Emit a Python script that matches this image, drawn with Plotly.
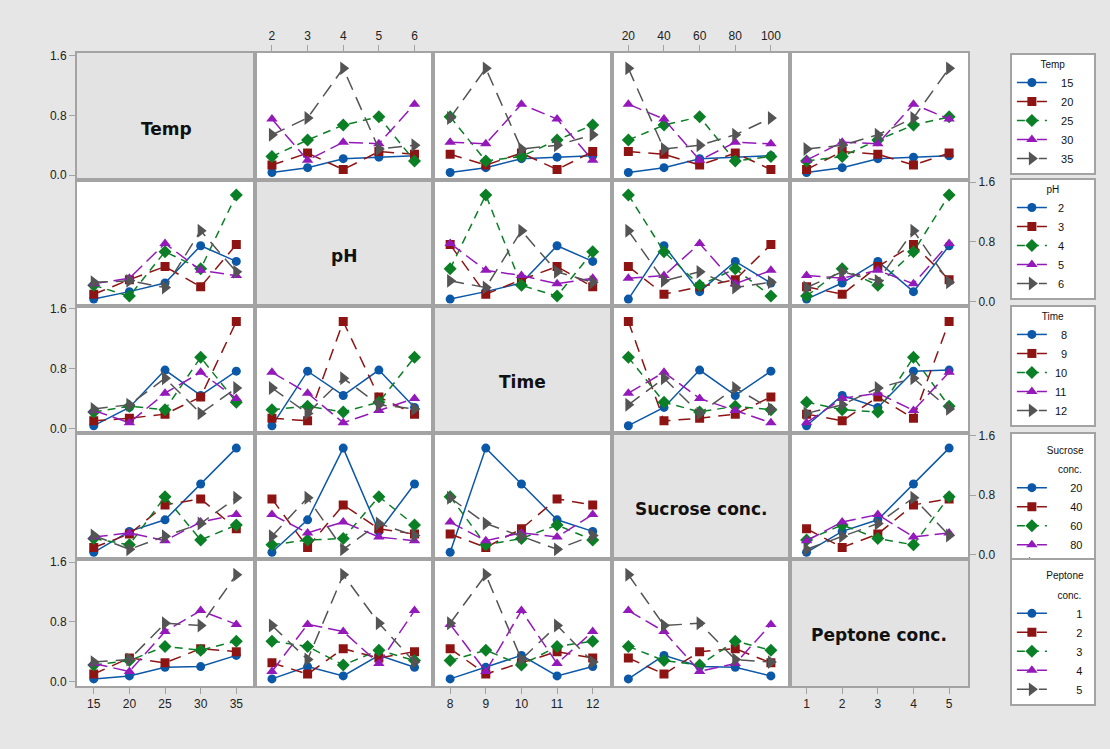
import plotly.graph_objects as go
from plotly.subplots import make_subplots

# Factors and their levels
factor_names = ["Temp", "pH", "Time", "Sucrose conc.", "Peptone conc."]
legend_titles = [["Temp"], ["pH"], ["Time"], ["Sucrose", "conc."], ["Peptone", "conc."]]
temp_levels = [15, 20, 25, 30, 35]
ph_levels = [2, 3, 4, 5, 6]
time_levels = [8, 9, 10, 11, 12]
sucrose_levels = [20, 40, 60, 80, 100]
peptone_levels = [1, 2, 3, 4, 5]

# L25 design: factor settings of each run and the measured response
temp = [15, 15, 15, 15, 15, 20, 20, 20, 20, 20, 25, 25, 25, 25, 25,
        30, 30, 30, 30, 30, 35, 35, 35, 35, 35]
ph = [2, 3, 4, 5, 6, 2, 3, 4, 5, 6, 2, 3, 4, 5, 6,
      2, 3, 4, 5, 6, 2, 3, 4, 5, 6]
time_h = [8, 9, 10, 11, 12, 9, 10, 11, 12, 8, 10, 11, 12, 8, 9,
          11, 12, 8, 9, 10, 12, 8, 9, 10, 11]
sucrose = [20, 40, 60, 80, 100, 60, 80, 100, 20, 40, 100, 20, 40, 60, 80,
           40, 60, 80, 100, 20, 80, 100, 20, 40, 60]
peptone = [1, 2, 3, 4, 5, 4, 5, 1, 2, 3, 2, 3, 4, 5, 1,
           5, 1, 2, 3, 4, 3, 4, 5, 1, 2]
response = [0.035, 0.10, 0.22, 0.24, 0.26,
            0.135, 0.295, 0.075, 0.315, 0.28,
            0.25, 0.47, 0.67, 0.78, 0.19,
            0.75, 0.20, 0.44, 0.42, 0.95,
            0.54, 0.765, 1.43, 0.35, 0.40]

columns = [temp, ph, time_h, sucrose, peptone]
levels = [temp_levels, ph_levels, time_levels, sucrose_levels, peptone_levels]

colors = ["#0b57a8", "#8e1414", "#0b7f26", "#9419ba", "#545454"]
symbols = ["circle", "square", "diamond", "triangle-up", "triangle-right"]
marker_sizes = [9, 9, 10, 10, 12]
dashes = ["solid", "12px,8px", "8px,6px", "14px,6px", "14px,8px"]

BORDER = "#a3a3a3"
DIAG_FILL = "#e3e3e3"
FONT = "Liberation Sans, Arial, sans-serif"
N = 5
NBSP = "\u00a0"

# legend label layout: right-aligned in nbsp units (one digit ~ two nbsp)
label_units = [7, 4, 5, 10, 10]
box_units = 12


def legend_label(value, r):
    s = str(value)
    lead = max(label_units[r] - 2 * len(s), 0)
    return NBSP * lead + s + NBSP * (box_units - label_units[r])


fig = make_subplots(rows=N, cols=N, horizontal_spacing=0, vertical_spacing=0)

for r in range(N):
    for c in range(N):
        if r == c:
            # empty trace so the diagonal panel keeps its axes
            fig.add_trace(go.Scatter(x=[None], y=[None], mode="markers",
                                     showlegend=False, hoverinfo="skip"),
                          row=r + 1, col=c + 1)
            continue
        tr_col, x_col = columns[r], columns[c]
        for t, tval in enumerate(levels[r]):
            pts = sorted(
                (levels[c].index(x_col[k]), response[k])
                for k in range(len(response)) if tr_col[k] == tval
            )
            first = (c == (1 if r == 0 else 0))
            fig.add_trace(
                go.Scatter(
                    x=[p[0] for p in pts], y=[p[1] for p in pts],
                    mode="lines+markers",
                    name=legend_label(tval, r),
                    legend="legend" if r == 0 else f"legend{r + 1}",
                    showlegend=first,
                    line=dict(color=colors[t], width=1.5, dash=dashes[t]),
                    marker=dict(symbol=symbols[t], size=marker_sizes[t],
                                color=colors[t], line=dict(width=0)),
                    hoverinfo="skip",
                ),
                row=r + 1, col=c + 1,
            )

for r in range(N):
    for c in range(N):
        n = r * N + c + 1
        xa = "xaxis" if n == 1 else f"xaxis{n}"
        ya = "yaxis" if n == 1 else f"yaxis{n}"
        x_bottom = (r == N - 1 and c % 2 == 0)
        x_top = (r == 0 and c % 2 == 1)
        y_left = (c == 0 and r % 2 == 0)
        y_right = (c == N - 1 and r % 2 == 1)
        show_x = x_bottom or x_top
        show_y = y_left or y_right
        fig.layout[xa].update(
            range=[-0.47, 4.53], tickvals=list(range(5)),
            ticktext=[str(v) for v in levels[c]],
            showticklabels=show_x, ticks="outside" if show_x else "",
            side="top" if x_top else "bottom",
            ticklen=6, tickcolor=BORDER, tickwidth=1,
            showgrid=False, zeroline=False,
            showline=True, mirror=True, linecolor=BORDER, linewidth=2,
            tickfont=dict(family=FONT, size=12, color="#222222"),
        )
        fig.layout[ya].update(
            range=[-0.06, 1.635], tickvals=[0, 0.8, 1.6],
            ticktext=["0.0", "0.8", "1.6"],
            showticklabels=show_y, ticks="outside" if show_y else "",
            side="right" if y_right else "left",
            ticklen=6, tickcolor=BORDER, tickwidth=1,
            showgrid=False, zeroline=False,
            showline=True, mirror=True, linecolor=BORDER, linewidth=2,
            tickfont=dict(family=FONT, size=12, color="#222222"),
        )
        if r == c:
            xs = "x" if n == 1 else f"x{n}"
            ys = "y" if n == 1 else f"y{n}"
            fig.add_shape(type="rect", xref=f"{xs} domain", yref=f"{ys} domain",
                          x0=0, x1=1, y0=0, y1=1, fillcolor=DIAG_FILL,
                          line=dict(width=0), layer="below")
            fig.add_annotation(x=0.5, y=0.4, xref=f"{xs} domain", yref=f"{ys} domain",
                               text=f"<b>{factor_names[r]}</b>", showarrow=False,
                               font=dict(family="DejaVu Sans, sans-serif", size=17,
                                         color="#111111"))

# One legend box per row factor, stacked at the right
legend_tops = [1.0, 0.8025, 0.602, 0.401, 0.2025]
for r in range(N):
    key = "legend" if r == 0 else f"legend{r + 1}"
    parts = legend_titles[r]
    if len(parts) > 1:
        # two-line titles, right-aligned with nbsp padding
        width = max(len(p) for p in parts)
        lines = [NBSP * round(1.8 * (width - len(p))) + p + NBSP * 3 for p in parts]
        title_text = "<br>".join(f"<span style='font-size:10px'>{ln}</span>"
                                 for ln in lines)
        title = dict(text=title_text, side="top right",
                     font=dict(family=FONT, size=15, color="#111111"))
    else:
        title = dict(text=parts[0], side="top center",
                     font=dict(family=FONT, size=10, color="#111111"))
    fig.layout[key] = dict(
        x=1.047, y=legend_tops[r], xanchor="left", yanchor="top",
        bgcolor="white", bordercolor=BORDER, borderwidth=2,
        font=dict(family=FONT, size=11, color="#111111"),
        title=title, itemwidth=30, tracegroupgap=0,
    )

fig.update_layout(
    width=1110, height=749,
    margin=dict(l=77, r=142, t=53, b=63),
    paper_bgcolor="#e6e6e6", plot_bgcolor="white",
    font=dict(family=FONT),
)

fig.write_html("out.html")
